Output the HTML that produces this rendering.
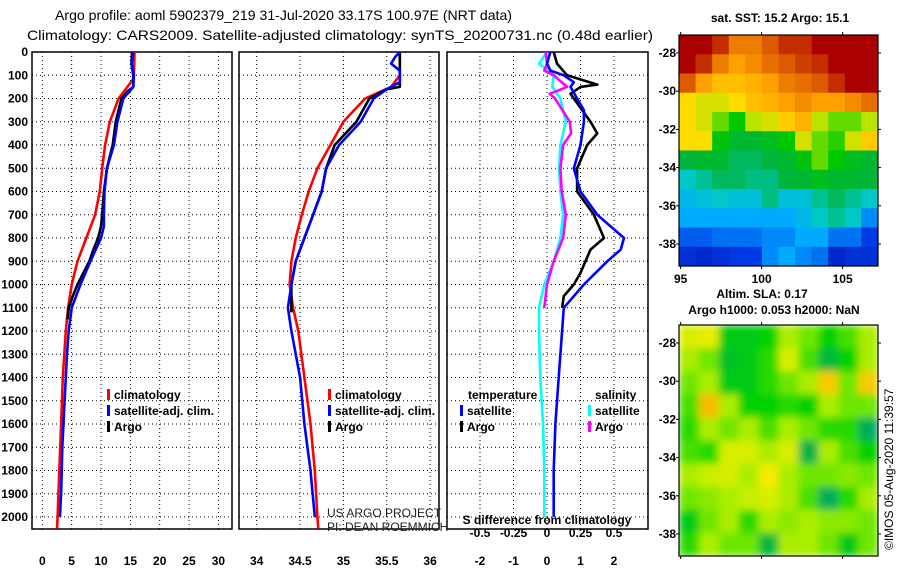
<!DOCTYPE html>
<html><head><meta charset="utf-8"><style>
html,body{margin:0;padding:0;background:#fff;}
svg{display:block;}
text{font-family:"Liberation Sans",sans-serif;}
.b{font-weight:bold;font-size:12px;}
</style></head><body>
<svg id="fig" width="900" height="580" viewBox="0 0 900 580" xmlns="http://www.w3.org/2000/svg">
<text x="55" y="20" font-size="14" textLength="457" lengthAdjust="spacingAndGlyphs">Argo profile: aoml 5902379_219 31-Jul-2020 33.17S 100.97E (NRT data)</text>
<text x="27" y="40" font-size="14" textLength="626" lengthAdjust="spacingAndGlyphs">Climatology: CARS2009. Satellite-adjusted climatology: synTS_20200731.nc (0.48d earlier)</text>
<g id="g1"></g>
<g id="g2"></g>
<g id="g3"></g>
<g id="m1"></g>
<g id="m2"></g>
<text x="780" y="22" text-anchor="middle" class="b">sat. SST: 15.2 Argo: 15.1</text>
<text x="762" y="298" text-anchor="middle" class="b">Altim. SLA: 0.17</text>
<text x="774" y="314" text-anchor="middle" class="b">Argo h1000: 0.053 h2000: NaN</text>
<text transform="translate(893,550) rotate(-90)" font-size="12">©IMOS 05-Aug-2020 11:39:57</text>
<text x="327" y="517" font-size="12" fill="#222">US ARGO PROJECT</text>
<text x="327" y="531" font-size="12" fill="#222">PI: DEAN ROEMMICH</text>
<defs><filter id="blur" x="0" y="0" width="1" height="1"><feGaussianBlur stdDeviation="4" edgeMode="duplicate"/></filter>
<clipPath id="c1"><rect x="32" y="52" width="200" height="477"/></clipPath>
<clipPath id="c2"><rect x="239" y="52" width="200" height="477"/></clipPath>
<clipPath id="c3"><rect x="447" y="52" width="201" height="477"/></clipPath>
<clipPath id="cm2"><rect x="679" y="325" width="199" height="231"/></clipPath></defs>
</svg>
<script>
// ---- data ----
const depthTicks=[0,100,200,300,400,500,600,700,800,900,1000,1100,1200,1300,1400,1500,1600,1700,1800,1900,2000];
const tTicks=[0,5,10,15,20,25,30];
const sTicks=[34,34.5,35,35.5,36];
const dTicks=[-2,-1,0,1,2];
const sdTickLabels=["-0.5","-0.25","0","0.25","0.5"];
const sdTicks=[-0.5,-0.25,0,0.25,0.5];
const tArgoZ=[0,50,100,150,170,200,300,400,500,600,700,750,800,850,900,950,1000,1050,1100,1150];
const tArgo=[15.3,15.2,15.5,15.5,14.5,13.5,12.5,12,11,10.5,10.2,10,9.5,8.7,8,7,6,5.2,4.5,4.3];
const tSatZ=[0,50,100,150,200,300,400,500,600,700,750,800,900,1000,1100,1200,1300,1500,1700,1900,2000];
const tSat=[15.5,15.2,15.6,15.5,13.8,12.8,12.2,11,10.6,10.5,10.5,10,8.2,6.5,5,4.5,4.2,3.8,3.4,3.2,3.0];
const tClimZ=[0,100,120,150,200,300,400,500,600,700,800,900,1000,1100,1200,1400,1600,1800,2000,2050];
const tClim=[15.7,15.6,15.4,14.5,13,11.5,10.7,10.2,9.8,9,7.5,6,5,4.4,4,3.5,3.2,2.9,2.6,2.5];
const sArgoZ=[0,50,100,150,160,200,300,400,500,600,700,800,900,1000,1100,1120];
const sArgo=[35.65,35.65,35.65,35.65,35.5,35.3,35.15,34.9,34.8,34.75,34.65,34.55,34.45,34.4,34.4,34.4];
const sSatZ=[0,20,50,80,130,160,200,300,400,500,600,700,800,900,1000,1100,1200,1400,1600,1800,2000];
const sSat=[35.65,35.6,35.55,35.65,35.65,35.5,35.35,35.2,34.95,34.8,34.75,34.65,34.55,34.45,34.4,34.36,34.4,34.5,34.55,34.62,34.67];
const sClimZ=[0,100,150,200,300,400,500,600,700,800,900,1000,1100,1200,1400,1600,1800,2000,2050];
const sClim=[35.65,35.65,35.55,35.25,35.0,34.85,34.7,34.6,34.52,34.45,34.4,34.38,34.42,34.48,34.55,34.62,34.67,34.7,34.71];
const dtSatZ=[0,50,80,100,130,150,200,250,300,400,500,600,700,800,850,900,1000,1100,1200,1400,1600,1800,2000];
const dtSat=[0.1,0,0.1,0.5,0.8,0.7,0.9,1.1,1.1,1,0.8,1.0,1.5,2.3,2.2,1.8,1.1,0.5,0.45,0.35,0.25,0.2,0.2];
const dtArgoZ=[0,50,100,140,150,180,200,300,350,400,500,600,700,800,850,950,1000,1050,1100];
const dtArgo=[0.2,0.3,0.6,1.5,1.0,0.7,0.8,1.3,1.5,1.2,0.9,0.9,1.4,1.7,1.3,1.0,0.8,0.5,0.45];
const dsSatZ=[0,50,100,150,200,300,400,500,600,700,800,900,1000,1100,1200,1400,1600,1800,2000];
const dsSat=[0,-0.06,0.05,0.04,0.1,0.14,0.1,0.09,0.1,0.12,0.1,0.05,-0.02,-0.06,-0.06,-0.05,-0.03,-0.02,-0.02];
const dsArgoZ=[0,50,80,100,150,180,200,300,350,400,500,600,700,800,900,1000,1100];
const dsArgo=[-0.01,0,-0.02,0.05,0.15,0.02,0.06,0.17,0.18,0.12,0.1,0.11,0.14,0.12,0.05,0,-0.02];
const latTicks=[-28,-30,-32,-34,-36,-38];
const lonTicks=[95,100,105];
const sstGrid=[
[.95,.95,.9,.8,.8,.85,.9,.9,.95,.95,.95,.95],
[.95,.9,.8,.75,.78,.82,.85,.88,.9,.95,.95,.95],
[.85,.75,.7,.7,.72,.75,.8,.82,.85,.9,.95,.95],
[.65,.62,.62,.65,.7,.72,.75,.78,.75,.75,.78,.82],
[.65,.62,.55,.5,.6,.62,.68,.72,.6,.55,.55,.6],
[.65,.65,.48,.42,.42,.45,.5,.62,.55,.52,.62,.68],
[.4,.42,.42,.38,.38,.4,.42,.48,.55,.5,.45,.42],
[.32,.35,.38,.38,.36,.36,.4,.42,.45,.42,.42,.4],
[.28,.3,.32,.3,.3,.36,.3,.3,.35,.38,.35,.32],
[.25,.25,.25,.25,.25,.25,.25,.28,.32,.35,.32,.22],
[.18,.18,.2,.2,.2,.22,.22,.25,.25,.2,.2,.15],
[.12,.1,.12,.14,.15,.22,.25,.22,.2,.1,.12,.12]];
const slaGrid=[
[.7,.75,.3,.3,.35,.6,.5,.35,.45,.6],
[.6,.5,.25,.3,.4,.7,.45,.2,.35,.6],
[.5,.6,.3,.3,.4,.5,.6,.9,.5,.9],
[.45,.95,.6,.35,.35,.4,.35,.6,.5,.5],
[.4,.6,.5,.6,.45,.6,.5,.4,.4,.1],
[.45,.4,.7,.7,.6,.7,.15,.6,.45,.35],
[.6,.65,.7,.6,.8,.6,.5,.5,.55,.5],
[.5,.55,.6,.65,.7,.6,.45,.1,.4,.6],
[.3,.5,.6,.4,.6,.55,.6,.55,.55,.5],
[.4,.6,.5,.5,.2,.6,.6,.5,.3,.5]];

// ---- helpers ----
const NS='http://www.w3.org/2000/svg';
function mk(parent,tag,attrs){const e=document.createElementNS(NS,tag);for(const k in attrs)e.setAttribute(k,attrs[k]);parent.appendChild(e);return e;}
const Y=z=>52+z*0.2325;
function panel(g,x0,x1,ticks,xf,labels,clip,showDepth){
  ticks.forEach((t,i)=>{const x=xf(t);
    const l=mk(g,'line',{x1:x,x2:x,y1:52,y2:529,stroke:'#000','stroke-dasharray':'1,3','stroke-width':1});
    
    const tx=mk(g,'text',{x:x,y:565,'text-anchor':'middle',class:'b'});tx.textContent=labels?labels[i]:String(t);
    
  });
  depthTicks.forEach(d=>{const y=Y(d);
    const l=mk(g,'line',{x1:x0,x2:x1,y1:y,y2:y,stroke:'#000','stroke-dasharray':'1,3','stroke-width':1});
    
    if(showDepth){const tx=mk(g,'text',{x:28,y:y+4,'text-anchor':'end',class:'b'});tx.textContent=d;
      }
  });
  const r=mk(g,'rect',{x:x0,y:52,width:x1-x0,height:477,fill:'none',stroke:'#000','stroke-width':1.5});
  
}
function line(g,zs,vs,xf,color,name,clip){
  const pts=zs.map((z,i)=>xf(vs[i]).toFixed(1)+','+Y(z).toFixed(1)).join(' ');
  const p=mk(g,'polyline',{points:pts,fill:'none',stroke:color,'stroke-width':2.6,'clip-path':'url(#'+clip+')','stroke-linejoin':'round'});
  
}
function legend(g,x,y,color,label){
  const r=mk(g,'rect',{x:x,y:y-10,width:3,height:11,fill:color});
  
  const t=mk(g,'text',{x:x+7,y:y,class:'b'});t.textContent=label;
  
}
// panel 1
const g1=document.getElementById('g1');const x1=t=>42.3+t*5.87;
panel(g1,32,232,tTicks,x1,null,'c1',true);
line(g1,tClimZ,tClim,x1,'#f00','climatology-temperature-line','c1');
line(g1,tArgoZ,tArgo,x1,'#000','argo-temperature-line','c1');
line(g1,tSatZ,tSat,x1,'#00f','satellite-temperature-line','c1');
legend(g1,107,399,'#f00','climatology');legend(g1,107,415,'#00f','satellite-adj. clim.');legend(g1,107,431,'#000','Argo');
// panel 2
const g2=document.getElementById('g2');const x2=s=>256.7+(s-34)*86.7;
panel(g2,239,439,sTicks,x2,null,'c2',false);
line(g2,sClimZ,sClim,x2,'#f00','climatology-salinity-line','c2');
line(g2,sArgoZ,sArgo,x2,'#000','argo-salinity-line','c2');
line(g2,sSatZ,sSat,x2,'#00f','satellite-salinity-line','c2');
legend(g2,328,399,'#f00','climatology');legend(g2,328,415,'#00f','satellite-adj. clim.');legend(g2,328,431,'#000','Argo');
// panel 3
const g3=document.getElementById('g3');const x3=t=>547+t*33.5;const xs=s=>547+s*134;
panel(g3,447,648,dTicks,x3,null,'c3',false);
sdTicks.forEach((s,i)=>{const t=mk(g3,'text',{x:xs(s),y:537,'text-anchor':'middle',class:'b'});t.textContent=sdTickLabels[i];
  });
const st=mk(g3,'text',{x:547,y:524,'text-anchor':'middle',class:'b'});st.textContent='S difference from climatology';

line(g3,dsSatZ,dsSat,xs,'#0ff','salinity-satellite-diff-line','c3');
line(g3,dsArgoZ,dsArgo,xs,'#f0f','salinity-argo-diff-line','c3');
line(g3,dtArgoZ,dtArgo,x3,'#000','temperature-argo-diff-line','c3');
line(g3,dtSatZ,dtSat,x3,'#00f','temperature-satellite-diff-line','c3');
const h1=mk(g3,'text',{x:468,y:399,class:'b'});h1.textContent='temperature';
const h2=mk(g3,'text',{x:595,y:399,class:'b'});h2.textContent='salinity';
legend(g3,460,415,'#00f','satellite');legend(g3,460,431,'#000','Argo');legend(g3,588,415,'#0ff','satellite');legend(g3,588,431,'#f0f','Argo');
// maps
function lerpC(stops,v){v=Math.max(0,Math.min(1,v));for(let i=1;i<stops.length;i++){if(v<=stops[i][0]){const a=stops[i-1],b=stops[i],f=(v-a[0])/(b[0]-a[0]);return 'rgb('+[1,2,3].map(k=>Math.round(a[k]+(b[k]-a[k])*f)).join(',')+')';}}return 'rgb(0,0,0)';}
const jet=[[0,0,0,150],[.15,0,60,230],[.25,0,170,255],[.32,0,200,200],[.4,0,180,60],[.5,0,200,0],[.58,160,230,0],[.65,255,220,0],[.75,255,160,0],[.85,220,90,0],[.95,170,0,0],[1,160,0,0]];
const slaC=[[0,0,160,120],[.2,0,185,60],[.35,0,210,0],[.5,110,230,0],[.65,200,240,0],[.8,245,235,0],[1,250,170,0]];
function map(gid,top,grid,cm,blur){
  const g=document.getElementById(gid);const L=679,W=199,H=231;
  const inner=mk(g,'g',blur?{'clip-path':'url(#cm2)'}:{});
  const gg=mk(inner,'g',blur?{filter:'url(#blur)'}:{});
  const R=grid.length,C=grid[0].length;
  grid.forEach((row,r)=>row.forEach((v,c)=>{
    const e=mk(gg,'rect',{x:L+c*W/C,y:top+r*H/R,width:W/C+0.5,height:H/R+0.5,fill:lerpC(cm,v)});
    
  }));
  const fr=mk(g,'rect',{x:L,y:top,width:W,height:H,fill:'none',stroke:'#000','stroke-width':1.2});
  
  latTicks.forEach(la=>{const y=top+18+(-28-la)*19.1;
    mk(g,'line',{x1:L-3,x2:L,y1:y,y2:y,stroke:'#000'});mk(g,'line',{x1:L+W,x2:L+W+3,y1:y,y2:y,stroke:'#000'});
    const t=mk(g,'text',{x:L-3,y:y+4,'text-anchor':'end',class:'b'});t.textContent=la;
    });
  lonTicks.forEach(lo=>{const x=679+(lo-94.9)*16.2;
    mk(g,'line',{x1:x,x2:x,y1:top-3,y2:top,stroke:'#000'});mk(g,'line',{x1:x,x2:x,y1:top+H,y2:top+H+3,stroke:'#000'});
    if(!blur){const t=mk(g,'text',{x:x,y:top+H+17,'text-anchor':'middle',class:'b'});t.textContent=lo;
      }});
}
map('m1',35,sstGrid,jet,false);
map('m2',325,slaGrid,slaC,true);
</script>
</body></html>
